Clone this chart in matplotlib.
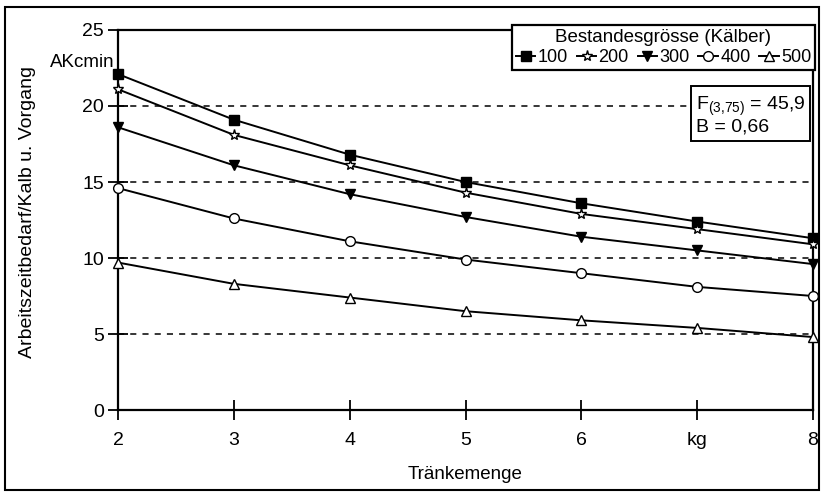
import matplotlib.pyplot as plt
from matplotlib.patches import Rectangle

plt.rcParams['font.family'] = ['Liberation Sans', 'DejaVu Sans']
plt.rcParams['mathtext.fontset'] = 'custom'
plt.rcParams['mathtext.rm'] = 'Liberation Sans'

# Tränkemenge (kg)
menge = [2, 3, 4, 5, 6, 7, 8]
x_ticks = [2, 3, 4, 5, 6, 7, 8]
x_ticklabels = ['2', '3', '4', '5', '6', 'kg', '8']

# Arbeitszeitbedarf (AKcmin) je Bestandesgrösse
herde = ['100', '200', '300', '400', '500']
akmin_100 = [22.1, 19.1, 16.8, 15.0, 13.6, 12.4, 11.3]
akmin_200 = [21.1, 18.1, 16.1, 14.3, 12.9, 11.9, 10.9]
akmin_300 = [18.6, 16.1, 14.2, 12.7, 11.4, 10.5, 9.6]
akmin_400 = [14.6, 12.6, 11.1, 9.9, 9.0, 8.1, 7.5]
akmin_500 = [9.7, 8.3, 7.4, 6.5, 5.9, 5.4, 4.8]

series = [akmin_100, akmin_200, akmin_300, akmin_400, akmin_500]
markers = ['s', '*', 'v', 'o', '^']
faces = ['black', 'white', 'black', 'white', 'white']
sizes = [7, 8, 7, 7, 7]

fig = plt.figure(figsize=(8.24, 4.95), dpi=100)
ax = fig.add_axes([0.1432, 0.1717, 0.8435, 0.7677])

for y in [5, 10, 15, 20]:
    ax.axhline(y, color='black', lw=1.1, ls=(0, (4, 4)), zorder=1)

for name, vals, m, fc, ms in zip(herde, series, markers, faces, sizes):
    ax.plot(menge, vals, color='black', lw=1.4, marker=m, ms=ms,
            mfc=fc, mec='black', mew=1.0, label=name, zorder=3,
            clip_on=False)

ax.set_xlim(2, 8)
ax.set_ylim(0, 25)
ax.set_xticks(x_ticks)
ax.set_xticklabels(x_ticklabels)
ax.set_yticks([0, 5, 10, 15, 20, 25])
ax.tick_params(direction='inout', length=14, width=1.3, labelsize=14)
ax.tick_params(axis='x', pad=9)
ax.tick_params(axis='y', pad=3)
for s in ax.spines.values():
    s.set_linewidth(1.6)

ax.set_xlabel('Tränkemenge', fontsize=13.5, labelpad=12)
ax.set_ylabel('Arbeitszeitbedarf/Kalb u. Vorgang', fontsize=14)
ax.yaxis.set_label_coords(-0.118, 0.52)
fig.text(0.139, 0.874, 'AKcmin', ha='right', va='center', fontsize=13.5)

leg = ax.legend(title='Bestandesgrösse (Kälber)', ncol=5, loc='upper right',
                bbox_to_anchor=(0.989, 0.9495), bbox_transform=fig.transFigure,
                borderaxespad=0, fontsize=13, title_fontsize=13.5,
                handlelength=1.1, handletextpad=0.1, columnspacing=0.5,
                borderpad=0.2, labelspacing=0.2, fancybox=False,
                framealpha=1, edgecolor='black')
leg.get_frame().set_linewidth(1.6)

ax.text(0.9888, 0.829, '$\\mathregular{F_{(3{,}75)}}$ = 45,9\nB = 0,66',
        transform=ax.transAxes, ha='right', va='top', fontsize=14,
        linespacing=1.05, multialignment='left',
        bbox=dict(boxstyle='square,pad=0.25', fc='white', ec='black', lw=1.4))

fig.add_artist(Rectangle((0.006, 0.01), 0.988, 0.976, transform=fig.transFigure,
                         fill=False, ec='black', lw=1.5))

fig.savefig('out.png', dpi=100)
